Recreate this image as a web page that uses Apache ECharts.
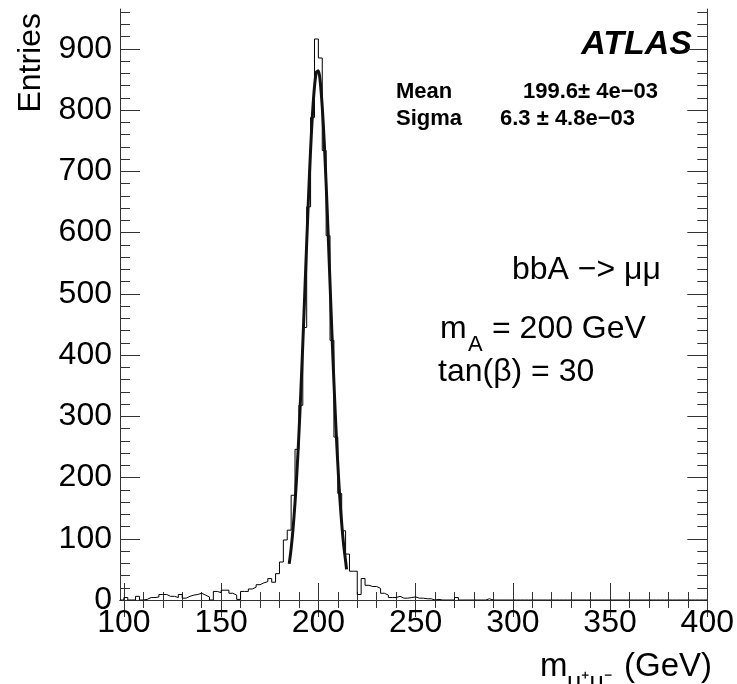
<!DOCTYPE html>
<html>
<head>
<meta charset="utf-8">
<script src="https://cdn.jsdelivr.net/npm/echarts@6/dist/echarts.min.js"></script>
<style>
html, body { margin: 0; padding: 0; background: #fff; }
#chart { width: 737px; height: 684px; }
</style>
</head>
<body>
<div id="chart"></div>
<script>
// histogram: 2 GeV bins starting at 98 GeV
var binStart = 98;
var binWidth = 2;
var counts = [
  0, 4, 0, 0, 6, 0, 1, 4, 4, 5,
  9, 9, 6, 6, 4, 9, 3, 6, 8, 9,
  11, 8, 5, 0, 14, 12, 16, 16, 11, 8,
  1, 14, 14, 18, 21, 25, 28, 30, 35, 29,
  43, 62, 98, 114, 171, 246, 318, 445, 642, 788,
  916, 885, 734, 595, 424, 266, 174, 113, 75, 47,
  47, 9, 35, 24, 22, 22, 19, 11, 8, 4,
  4, 6, 3, 3, 4, 5, 3, 3, 2, 2,
  0, 1, 0, 0, 0, 0, 4, 0, 0, 0,
  0, 0, 0, 0, 2, 0, 0, 0, 0, 0,
  0, 0, 0, 0, 0, 0, 0, 0, 0, 0,
  0, 0, 0, 0, 0, 0, 0, 0, 0, 0,
  0, 0, 0, 0, 0, 0, 0, 0, 0, 0,
  0, 0, 0, 0, 0, 0, 0, 0, 0, 0,
  0, 0, 0, 0, 0, 0, 0, 0, 0, 0,
  0
];

// gaussian fit curve
var fitX = [185, 186, 187, 188, 189, 190, 191, 192, 193, 194, 195, 196, 197, 198, 199, 200,
            201, 202, 203, 204, 205, 206, 207, 208, 209, 210, 211, 212, 213, 214, 214.5];
var fitY = [59, 84, 117, 159, 210, 271, 341, 418, 500, 583, 663, 735, 795, 838, 862, 864,
            845, 805, 749, 679, 600, 517, 434, 356, 284, 222, 168, 125, 90, 64, 50];

var xMajorTicks = [100, 150, 200, 250, 300, 350, 400];
var yMajorTicks = [0, 100, 200, 300, 400, 500, 600, 700, 800, 900];

var xMinorTicks = [];
for (var t = 100; t <= 400; t += 10) xMinorTicks.push(t);
var yMinorTicks = [];
for (var u = 0; u <= 960; u += 20) yMinorTicks.push(u);

var FONT = "'Liberation Sans', Arial, Helvetica, sans-serif";
var FRAME = '#333';

var histData = [];
for (var k = 0; k < counts.length; k++) {
  histData.push([binStart + k * binWidth, counts[k]]);
}
histData.push([binStart + counts.length * binWidth, counts[counts.length - 1]]);

var fitData = fitX.map(function (x, i) { return [x, fitY[i]]; });

function xAx(pos, ticks, len, withLine, withLabels) {
  return {
    type: 'value', min: 98, max: 400, position: pos,
    axisLine: { show: withLine, lineStyle: { color: FRAME, width: 1 } },
    axisTick: { show: true, inside: true, length: len, customValues: ticks,
                lineStyle: { color: FRAME, width: 1 } },
    axisLabel: { show: withLabels, customValues: xMajorTicks, fontSize: 32,
                 color: '#000', fontFamily: FONT, margin: 7 },
    splitLine: { show: false }
  };
}

function yAx(pos, ticks, len, withLine, withLabels) {
  return {
    type: 'value', min: 0, max: 965, position: pos,
    axisLine: { show: withLine, lineStyle: { color: FRAME, width: 1 } },
    axisTick: { show: true, inside: true, length: len, customValues: ticks,
                lineStyle: { color: FRAME, width: 1 } },
    axisLabel: { show: withLabels, customValues: yMajorTicks, fontSize: 32,
                 color: '#000', fontFamily: FONT, margin: 8, padding: [5, 0, 0, 0] },
    splitLine: { show: false }
  };
}

var chart = echarts.init(document.getElementById('chart'), null, { renderer: 'canvas' });

var option = {
  animation: false,
  backgroundColor: '#fff',
  grid: { left: 120, top: 9, right: 29, bottom: 84, containLabel: false },
  xAxis: [
    xAx('bottom', xMajorTicks, 17, true, true),
    xAx('bottom', xMinorTicks, 8, false, false),
    xAx('top', xMajorTicks, 17, true, false),
    xAx('top', xMinorTicks, 8, false, false)
  ],
  yAxis: [
    yAx('left', yMajorTicks, 20, true, true),
    yAx('left', yMinorTicks, 10, false, false),
    yAx('right', yMajorTicks, 20, true, false),
    yAx('right', yMinorTicks, 10, false, false)
  ],
  series: [
    {
      name: 'hist', type: 'line', step: 'end', data: histData,
      symbol: 'none', xAxisIndex: 0, yAxisIndex: 0,
      lineStyle: { color: '#000', width: 1 }, z: 2
    },
    {
      name: 'fit', type: 'line', smooth: 0.3, data: fitData,
      symbol: 'none', xAxisIndex: 0, yAxisIndex: 0,
      lineStyle: { color: '#111', width: 3 }, z: 3
    }
  ],
  graphic: [
    { type: 'text', x: 31, y: 13, rotation: Math.PI / 2,
      style: { text: 'Entries', font: '32px ' + FONT, fill: '#000',
               textAlign: 'right', textVerticalAlign: 'middle' } },
    { type: 'text', x: 540, y: 667,
      style: { text: 'm', font: '33px ' + FONT, fill: '#000',
               textAlign: 'left', textVerticalAlign: 'middle' } },
    { type: 'text', x: 567, y: 683,
      style: { text: 'μ⁺μ⁻', font: '25px ' + FONT, fill: '#000',
               textAlign: 'left', textVerticalAlign: 'middle' } },
    { type: 'text', x: 712, y: 667,
      style: { text: '(GeV)', font: '33px ' + FONT, fill: '#000',
               textAlign: 'right', textVerticalAlign: 'middle' } },
    { type: 'text', x: 692, y: 45,
      style: { text: 'ATLAS', font: 'italic bold 34px ' + FONT, fill: '#000',
               textAlign: 'right', textVerticalAlign: 'middle' } },
    { type: 'text', x: 396, y: 92,
      style: { text: 'Mean', font: 'bold 22px ' + FONT, fill: '#000',
               textAlign: 'left', textVerticalAlign: 'middle' } },
    { type: 'text', x: 523, y: 92,
      style: { text: '199.6± 4e−03', font: 'bold 22px ' + FONT, fill: '#000',
               textAlign: 'left', textVerticalAlign: 'middle' } },
    { type: 'text', x: 396, y: 119,
      style: { text: 'Sigma', font: 'bold 22px ' + FONT, fill: '#000',
               textAlign: 'left', textVerticalAlign: 'middle' } },
    { type: 'text', x: 500, y: 119,
      style: { text: '6.3 ± 4.8e−03', font: 'bold 22px ' + FONT, fill: '#000',
               textAlign: 'left', textVerticalAlign: 'middle' } },
    { type: 'text', x: 512, y: 270,
      style: { text: 'bbA −> μμ', font: '32px ' + FONT, fill: '#000',
               textAlign: 'left', textVerticalAlign: 'middle' } },
    { type: 'text', x: 440, y: 329,
      style: { text: 'm', font: '32px ' + FONT, fill: '#000',
               textAlign: 'left', textVerticalAlign: 'middle' } },
    { type: 'text', x: 468, y: 345,
      style: { text: 'A', font: '22px ' + FONT, fill: '#000',
               textAlign: 'left', textVerticalAlign: 'middle' } },
    { type: 'text', x: 492, y: 329,
      style: { text: '= 200 GeV', font: '32px ' + FONT, fill: '#000',
               textAlign: 'left', textVerticalAlign: 'middle' } },
    { type: 'text', x: 438, y: 372,
      style: { text: 'tan(β) = 30', font: '32px ' + FONT, fill: '#000',
               textAlign: 'left', textVerticalAlign: 'middle' } }
  ]
};

chart.setOption(option);
</script>
</body>
</html>
